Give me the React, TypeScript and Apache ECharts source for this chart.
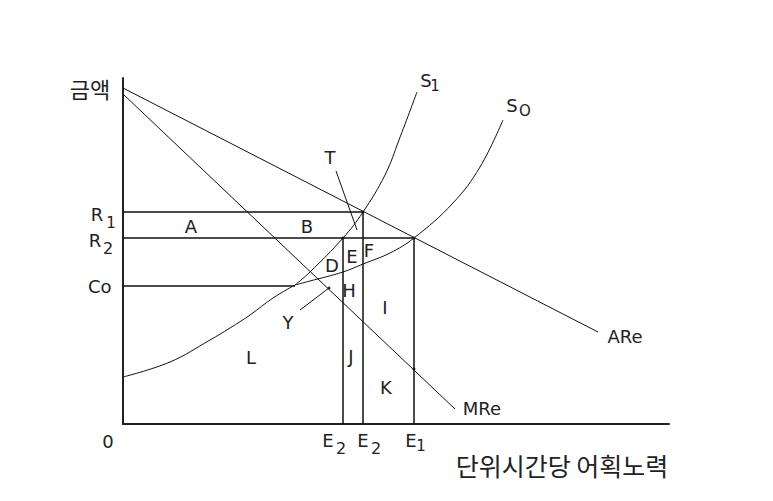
import React, { useEffect, useRef } from "react";
import * as echarts from "echarts";

// Data in chart units (x: effort, y: amount)
const X_MAX = 546;
const Y_MAX = 346;
const ARe: number[][] = [[0, 336], [475, 92]];
const MRe: number[][] = [[0, 330], [332, 15]];
const S_LOWER: number[][] = [[0, 47], [47, 62], [87, 84], [107, 96], [127, 109], [150, 126], [172, 139]];
const S0_UPPER: number[][] = [[172, 139], [187, 143], [220, 152], [240, 160], [267, 171], [291, 186], [330, 221], [357, 257], [380, 304]];
const S1_UPPER: number[][] = [[172, 139], [187, 152], [220, 186], [240, 212], [262, 249], [276, 284], [294, 332]];
const R1 = 212;
const R2 = 186;
const CO = 138;
const CO_END = 172;
const E2A = 220;
const E2B = 240;
const E1 = 291;
const T_PTR: number[][] = [[213, 253], [234, 194]];
const Y_PTR: number[][] = [[177, 114], [206, 136]];
const DOTS: number[][] = [[240, 212], [291, 186], [220, 186], [291, 55], [206, 136]];

const LAT = "DejaVu Sans";
const KR = "Noto Sans CJK KR";

function txt(text: string, x: number, y: number, size = 18, align = "center", family = LAT) {
  return {
    type: "text",
    x,
    y,
    style: { text, fill: "#222", fontSize: size, fontFamily: family, align, verticalAlign: "middle" },
  };
}

export default function App() {
  const ref = useRef<HTMLDivElement>(null);
  useEffect(() => {
    if (!ref.current) return;
    const chart = echarts.init(ref.current, null, { renderer: "svg" });
    const lineStyle = (w: number) => ({ color: "#111", width: w });
    const seg = (data: number[][], w = 1, smooth: number | boolean = false) => ({
      type: "line",
      data,
      smooth,
      showSymbol: false,
      symbol: "none",
      lineStyle: lineStyle(w),
      silent: true,
    });
    chart.setOption({
      animation: false,
      backgroundColor: "#ffffff",
      grid: { left: 123, top: 78, width: X_MAX, height: Y_MAX },
      xAxis: {
        type: "value",
        min: 0,
        max: X_MAX,
        axisLine: { show: true, lineStyle: { color: "#222", width: 2 } },
        axisTick: { show: false },
        axisLabel: { show: false },
        splitLine: { show: false },
      },
      yAxis: {
        type: "value",
        min: 0,
        max: Y_MAX,
        axisLine: { show: true, lineStyle: { color: "#222", width: 2 } },
        axisTick: { show: false },
        axisLabel: { show: false },
        splitLine: { show: false },
      },
      series: [
        seg(ARe),
        seg(MRe),
        seg(S_LOWER, 1, 0.4),
        seg(S0_UPPER, 1, 0.4),
        seg(S1_UPPER, 1, 0.4),
        seg([[0, R1], [E2B, R1]], 1.5),
        seg([[0, R2], [E1, R2]], 1.5),
        seg([[0, CO], [CO_END, CO]], 1.5),
        seg([[E2A, 0], [E2A, R2]], 1.5),
        seg([[E2B, 0], [E2B, R1]], 1.5),
        seg([[E1, 0], [E1, R2]], 1.5),
        seg(T_PTR),
        seg(Y_PTR),
        {
          type: "scatter",
          data: DOTS,
          symbolSize: 3,
          itemStyle: { color: "#000" },
          silent: true,
        },
      ],
      graphic: [
        txt("금액", 90, 88, 22, "center", KR),
        txt("R", 97, 214),
        txt("1", 111, 223, 15),
        txt("R", 95, 240),
        txt("2", 108, 248, 16),
        txt("Co", 88, 286, 18, "left"),
        txt("0", 108, 441),
        txt("A", 191, 226),
        txt("B", 307, 226),
        txt("D", 332, 265),
        txt("E", 352, 256),
        txt("F", 369, 250),
        txt("H", 349, 290),
        txt("I", 385, 307),
        txt("Y", 288, 322),
        txt("J", 351, 356),
        txt("K", 386, 387),
        txt("L", 251, 357),
        txt("T", 330, 157),
        txt("S", 426, 80),
        txt("1", 435, 86, 15),
        txt("S", 512, 105),
        txt("O", 525, 111, 15),
        txt("ARe", 625, 336),
        txt("MRe", 482, 408),
        txt("E", 328, 440),
        txt("2", 341, 448, 16),
        txt("E", 363, 440),
        txt("2", 376, 448, 16),
        txt("E", 411, 440),
        txt("1", 421, 446, 15),
        txt("단위시간당 어획노력", 562, 465, 25, "center", KR),
      ],
    });
    return () => chart.dispose();
  }, []);
  return (
    <div
      ref={ref}
      style={{ position: "fixed", left: 0, top: 0, width: 773, height: 501, background: "#fff" }}
    />
  );
}
